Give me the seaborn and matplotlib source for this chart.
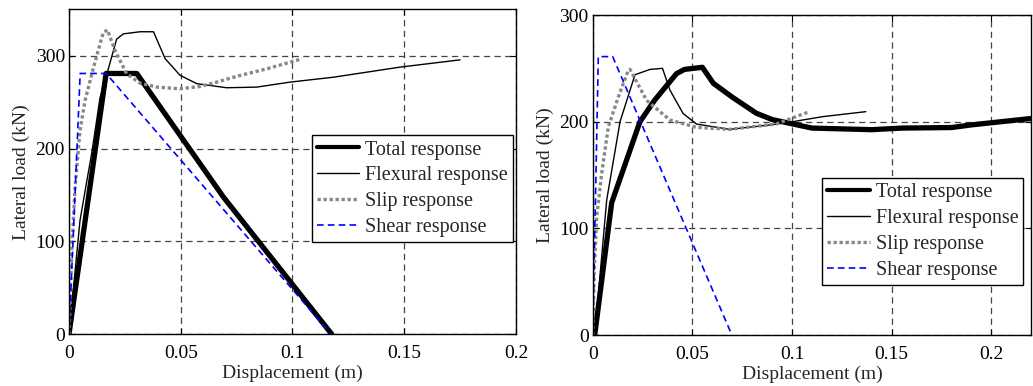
import numpy as np
import pandas as pd
import matplotlib
matplotlib.use("Agg")
import matplotlib.pyplot as plt
import seaborn as sns

# ---------------- data (left panel) ----------------
L_total_x = [0.0, 0.0166, 0.0303, 0.069, 0.1175]
L_total_y = [0, 281, 281, 148, 0]

L_flex_x = [0.0, 0.0049, 0.0076, 0.0101, 0.0139, 0.0169, 0.0213, 0.0243, 0.0318, 0.0378, 0.043, 0.0497,
            0.0572, 0.0706, 0.084, 0.099, 0.1184, 0.148, 0.175]
L_flex_y = [0, 122, 160, 194, 255, 280, 318, 323.7, 326, 326, 297, 279, 270, 265.6, 266.3, 271.7, 277, 287.8, 295.7]

L_slip_x = [0.0, 0.0012, 0.0027, 0.0049, 0.0072, 0.0109, 0.0153, 0.0172, 0.0206, 0.0258, 0.0318, 0.0393,
            0.0497, 0.0587, 0.0661, 0.0766, 0.0885, 0.1042]
L_slip_y = [0, 87, 158, 219, 252, 287, 325, 328, 305.7, 280.6, 270.6, 266.3, 264.5, 267, 271.7, 278.9, 286, 296.8]

L_shear_x = [0.0, 0.005, 0.0166, 0.1172]
L_shear_y = [0, 281, 281, 0]

# ---------------- data (right panel) ----------------
R_total_x = [0.001, 0.0095, 0.0237, 0.031, 0.042, 0.046, 0.055, 0.0605, 0.07, 0.082, 0.09, 0.1, 0.11,
             0.13, 0.14, 0.155, 0.18, 0.19, 0.2, 0.21, 0.22]
R_total_y = [0, 124, 200, 220, 245, 249, 251, 236, 223, 208, 202, 198, 194, 193, 192.5, 194, 194.5, 197, 199, 201, 203]

R_flex_x = [0.001, 0.007, 0.0137, 0.0212, 0.0287, 0.035, 0.0387, 0.0453, 0.052, 0.0687, 0.0887, 0.1003,
            0.1153, 0.137]
R_flex_y = [0, 126.5, 200, 244, 249, 250, 229.7, 207.8, 197.8, 192.8, 196.9, 200, 204.7, 209.4]

R_slip_x = [0.0, 0.0007, 0.002, 0.0045, 0.0078, 0.0128, 0.0178, 0.0187, 0.027, 0.0387, 0.052, 0.0687,
            0.092, 0.1087]
R_slip_y = [0, 58, 111, 151.5, 195, 223, 248, 249, 220, 201.6, 194.7, 192.8, 197.8, 209.4]

R_shear_x = [0.0, 0.0028, 0.01, 0.0698]
R_shear_y = [0, 261, 261, 0]

labels = ["Total response", "Flexural response", "Slip response", "Shear response"]
x_ticks = [0, 0.05, 0.1, 0.15, 0.2]
x_tick_labels = ["0", "0.05", "0.1", "0.15", "0.2"]
y_ticks = [0, 100, 200, 300]

sns.set_theme(style="white")
plt.rcParams["font.family"] = ["Liberation Serif", "DejaVu Serif"]

fig = plt.figure(figsize=(10.33, 3.86), dpi=100)
axL = fig.add_axes([0.0668, 0.1347, 0.4327, 0.8407])
axR = fig.add_axes([0.5738, 0.1321, 0.4245, 0.8290])

styles = [
    dict(color="black", linewidth=3.8, linestyle="-"),
    dict(color="black", linewidth=1.0, linestyle="-"),
    dict(color="#888888", linewidth=2.4, linestyle=(0, (1, 0.8))),
    dict(color="#0000ff", linewidth=1.2, linestyle=(0, (4, 2.5))),
]

def draw(ax, series, xlim, ylim, legend_anchor):
    for (xs, ys), lab, st in zip(series, labels, styles):
        df = pd.DataFrame({"x": xs, "y": ys})
        sns.lineplot(data=df, x="x", y="y", ax=ax, sort=False, estimator=None,
                     label=lab, **st)
    ax.set_xlim(*xlim)
    ax.set_ylim(*ylim)
    ax.set_xticks(x_ticks)
    ax.set_xticklabels(x_tick_labels)
    ax.set_yticks(y_ticks)
    ax.grid(True, color="#444444", linestyle=(0, (5, 3.5)), linewidth=0.9)
    ax.set_axisbelow(True)
    for sp in ax.spines.values():
        sp.set_visible(True)
        sp.set_color("black")
        sp.set_linewidth(1.0)
    ax.tick_params(direction="in", length=4, width=0.8, labelsize=14, top=True, right=True,
                   bottom=True, left=True, colors="black")
    ax.tick_params(axis="x", pad=8)
    ax.tick_params(axis="y", pad=3)
    ax.set_xlabel("Displacement (m)", fontsize=14, labelpad=2)
    ax.set_ylabel("Lateral load (kN)", fontsize=14, labelpad=4)
    leg = ax.legend(loc="upper right", bbox_to_anchor=legend_anchor, fontsize=14.5,
                    frameon=True, fancybox=False, framealpha=1, edgecolor="black",
                    handlelength=2.1, handletextpad=0.3, borderpad=0.25, labelspacing=0.34,
                    borderaxespad=0)
    leg.get_frame().set_linewidth(1.0)
    for h in leg.get_lines():
        if h.get_linewidth() > 3:
            h.set_linewidth(3.0)

draw(axL, [(L_total_x, L_total_y), (L_flex_x, L_flex_y), (L_slip_x, L_slip_y), (L_shear_x, L_shear_y)],
     (0, 0.2), (0, 350), (0.993, 0.612))
draw(axR, [(R_total_x, R_total_y), (R_flex_x, R_flex_y), (R_slip_x, R_slip_y), (R_shear_x, R_shear_y)],
     (0, 0.22), (0, 300), (0.982, 0.49))

fig.savefig("out.png", dpi=100)
